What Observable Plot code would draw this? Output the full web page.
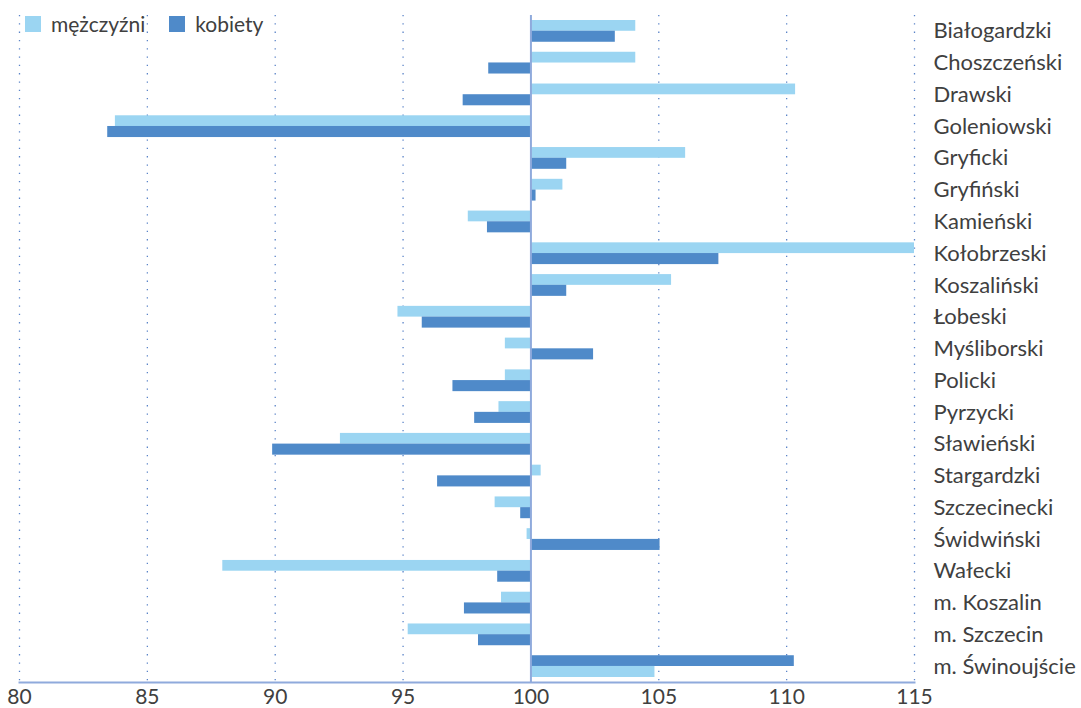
<!DOCTYPE html>
<html>
<head>
<meta charset="utf-8">
<script src="https://cdn.jsdelivr.net/npm/d3@7"></script>
<script src="https://cdn.jsdelivr.net/npm/@observablehq/plot@0.6"></script>
<style>
  html, body { margin: 0; padding: 0; background: #fff; }
  #wrap { position: relative; width: 1081px; height: 708px; font-family: Lato, "Open Sans", sans-serif; }
  #legend { position: absolute; left: 25px; top: 11px; display: flex; align-items: center; font-size: 21px; color: #404040; }
  #legend .sw { width: 16px; height: 16px; display: inline-block; margin-right: 10px; }
  #legend .item { display: flex; align-items: center; margin-right: 24px; }
</style>
</head>
<body>
<div id="wrap">
  <div id="chart"></div>
  <div id="legend"></div>
</div>
<script>
const categories = ["Białogardzki","Choszczeński","Drawski","Goleniowski","Gryficki","Gryfiński","Kamieński","Kołobrzeski","Koszaliński","Łobeski","Myśliborski","Policki","Pyrzycki","Sławieński","Stargardzki","Szczecinecki","Świdwiński","Wałecki","m. Koszalin","m. Szczecin","m. Świnoujście"];
const men   = [104.1,104.1,110.35,83.75,106.05,101.25,97.55,115.0,105.5,94.8,99.0,99.0,98.75,92.55,100.4,98.6,99.85,87.95,98.85,95.2,104.85];
const women = [103.3,98.35,97.35,83.45,101.4,100.2,98.3,107.35,101.4,95.75,102.45,96.95,97.8,89.9,96.35,99.6,105.05,98.7,97.4,97.95,110.3];
const series = ["mężczyźni","kobiety"];
const xTicks = [80,85,90,95,100,105,110,115];
const gridTicks = [80,85,90,95,105,110,115];
const colors = ["#9BD5F2","#4F8AC9"];

// the last category in the reference shows kobiety above mężczyźni
const swapped = new Set(["m. Świnoujście"]);
const rows = [];
categories.forEach((c, i) => {
  [men[i], women[i]].forEach((v, s) => {
    const slot = swapped.has(c) ? 1 - s : s;
    rows.push({category: c, series: series[s], value: v, slot});
  });
});

const chart = Plot.plot({
  width: 1081,
  height: 708,
  marginLeft: 19,
  marginRight: 167,
  marginTop: 15,
  marginBottom: 26,
  style: {fontFamily: "Lato, 'Open Sans', sans-serif", color: "#404040", background: "#fff", overflow: "visible"},
  x: {domain: [80, 115]},
  y: {domain: categories, padding: 0, round: false},
  color: {domain: series, range: colors},
  marks: [
    Plot.ruleX(gridTicks, {stroke: "#5B84C8", strokeWidth: 1.3, strokeDasharray: "1.3,7"}),
    Plot.barX(rows.filter(d => d.slot === 0), {x1: 100, x2: "value", y: "category", fill: "series", insetTop: 5, insetBottom: 16}),
    Plot.barX(rows.filter(d => d.slot === 1), {x1: 100, x2: "value", y: "category", fill: "series", insetTop: 15.7, insetBottom: 5}),
    Plot.ruleX([100], {stroke: "#8FAADC", strokeWidth: 2}),
    Plot.frame({anchor: "bottom", stroke: "#8FAADC", strokeWidth: 2}),
    Plot.axisX({ticks: xTicks, tickSize: 0, tickPadding: 7, fontSize: 21, label: null, tickFormat: d => String(d)}),
    Plot.axisY({anchor: "right", tickSize: 0, tickPadding: 19, fontSize: 22, label: null, textAnchor: "start"})
  ]
});
document.getElementById("chart").appendChild(chart);

const legend = document.getElementById("legend");
series.forEach((s, i) => {
  const item = document.createElement("span");
  item.className = "item";
  const sw = document.createElement("span");
  sw.className = "sw";
  sw.style.background = colors[i];
  item.appendChild(sw);
  item.appendChild(document.createTextNode(s));
  legend.appendChild(item);
});
</script>
</body>
</html>
